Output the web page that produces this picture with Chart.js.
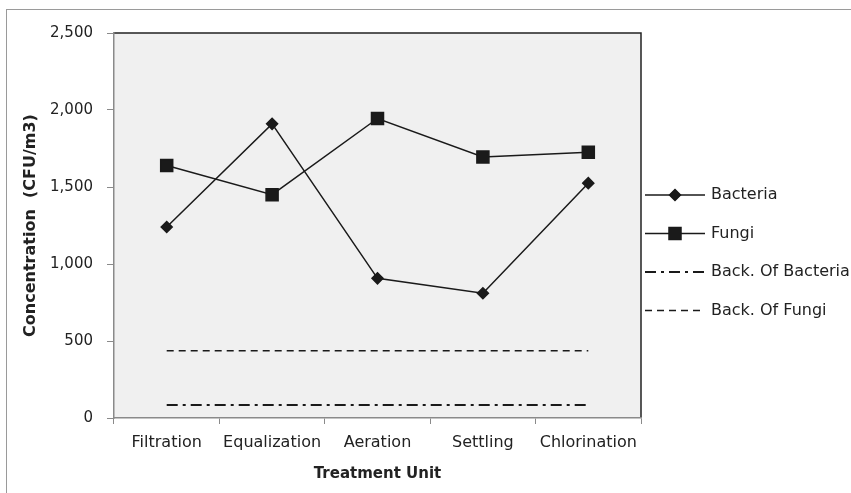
<!DOCTYPE html>
<html>
<head>
<meta charset="utf-8">
<script src="https://cdn.jsdelivr.net/npm/chart.js@4"></script>
<style>
    html, body { margin: 0; padding: 0; background: #fff; }
    #wrap { position: relative; width: 851px; height: 493px; }
    #frame { position: absolute; left: 6px; top: 9px; right: -2px; bottom: -2px; border: 1px solid #9a9a9a; }
</style>
</head>
<body>
<div id="wrap">
    <div id="frame"></div>
    <canvas id="chart" width="851" height="493"></canvas>
</div>
<script>
const units        = ['Filtration', 'Equalization', 'Aeration', 'Settling', 'Chlorination'];
const bacteria     = [1240, 1910, 907, 810, 1525];
const fungi        = [1640, 1450, 1945, 1695, 1725];
const backBacteria = [85, 85, 85, 85, 85];
const backFungi    = [437, 437, 437, 437, 437];
const yTicks       = [0, 500, 1000, 1500, 2000, 2500];

const font = "'DejaVu Sans', sans-serif";
const ink = '#1a1a1a';

// plot area fill + dark top/right border, Excel style
const plotFrame = {
    id: 'plotFrame',
    beforeDraw(chart) {
        const { ctx, chartArea: a } = chart;
        ctx.save();
        ctx.fillStyle = '#f0f0f0';
        ctx.fillRect(a.left, a.top, a.right - a.left, a.bottom - a.top);
        ctx.strokeStyle = '#222';
        ctx.lineWidth = 1.5;
        ctx.beginPath();
        ctx.moveTo(a.left, a.top);
        ctx.lineTo(a.right, a.top);
        ctx.lineTo(a.right, a.bottom);
        ctx.stroke();
        ctx.restore();
    }
};

// legend: short line with marker in the middle, text to the right
const sideLegend = {
    id: 'sideLegend',
    afterDraw(chart) {
        const { ctx } = chart;
        const x0 = 645, x1 = 705, y0 = 195, step = 38.5;
        ctx.save();
        chart.data.datasets.forEach((ds, i) => {
            const y = y0 + i * step;
            ctx.strokeStyle = ds.borderColor;
            ctx.lineWidth = ds.borderWidth;
            ctx.setLineDash(ds.borderDash || []);
            ctx.beginPath();
            ctx.moveTo(x0, y);
            ctx.lineTo(x1, y);
            ctx.stroke();
            ctx.setLineDash([]);
            if (ds.pointRadius > 0) {
                Chart.helpers.drawPoint(ctx, {
                    pointStyle: ds.pointStyle, radius: ds.pointRadius, rotation: 0, borderWidth: 1
                }, (x0 + x1) / 2, y);
                ctx.fillStyle = ink;
                ctx.fill();
            }
            ctx.fillStyle = '#222';
            ctx.font = `16px ${font}`;
            ctx.textBaseline = 'middle';
            ctx.fillText(ds.label, 711, y);
        });
        ctx.restore();
    }
};

new Chart(document.getElementById('chart'), {
    type: 'line',
    data: {
        labels: units,
        datasets: [
            { label: 'Bacteria', data: bacteria, borderColor: ink, borderWidth: 1.5,
              pointStyle: 'rectRot', pointRadius: 5.5, pointBackgroundColor: ink, pointBorderColor: ink },
            { label: 'Fungi', data: fungi, borderColor: ink, borderWidth: 1.5,
              pointStyle: 'rect', pointRadius: 8.5, pointBackgroundColor: ink, pointBorderColor: ink },
            { label: 'Back. Of Bacteria', data: backBacteria, borderColor: ink, borderWidth: 2,
              borderDash: [11, 5, 3, 5], pointRadius: 0 },
            { label: 'Back. Of Fungi', data: backFungi, borderColor: ink, borderWidth: 1.5,
              borderDash: [7, 5], pointRadius: 0 },
        ]
    },
    options: {
        responsive: false,
        animation: false,
        layout: { padding: { top: 33, right: 210, left: 0, bottom: 0 } },
        plugins: {
            legend: { display: false },
            tooltip: { enabled: false },
        },
        elements: { line: { tension: 0 } },
        scales: {
            x: {
                offset: true,
                grid: { offset: true, drawOnChartArea: false, tickLength: 6, color: '#8a8a8a' },
                border: { color: '#8a8a8a', width: 1.5 },
                ticks: { color: '#222', font: { family: font, size: 16 }, padding: 9, maxRotation: 0 },
                title: { display: true, text: 'Treatment Unit', color: '#222',
                         font: { family: font, size: 15, weight: 'bold' }, padding: { top: 4, bottom: 10 } },
                afterFit(s) { s.height = 75; },
            },
            y: {
                min: 0,
                max: 2500,
                afterBuildTicks(s) { s.ticks = yTicks.map(v => ({ value: v })); },
                grid: { drawOnChartArea: false, tickLength: 7, color: '#8a8a8a' },
                border: { color: '#8a8a8a', width: 1.5 },
                ticks: { color: '#222', font: { family: font, size: 15 }, padding: 14,
                         callback: v => v.toLocaleString('en-US') },
                title: { display: true, text: 'Concentration  (CFU/m3)', color: '#222',
                         font: { family: font, size: 16, weight: 'bold' }, padding: { top: 21 } },
                afterFit(s) { s.width = 114; },
            }
        }
    },
    plugins: [plotFrame, sideLegend]
});
</script>
</body>
</html>
